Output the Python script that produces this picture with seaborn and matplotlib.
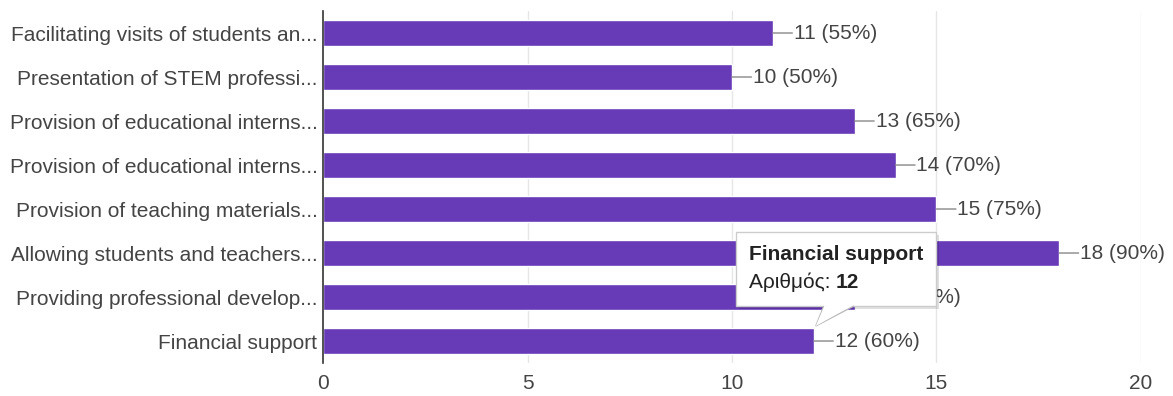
import matplotlib
matplotlib.use("Agg")
import matplotlib.pyplot as plt
import seaborn as sns
import pandas as pd
from matplotlib.patches import FancyBboxPatch, Polygon

categories = [
    "Facilitating visits of students an...",
    "Presentation of STEM professi...",
    "Provision of educational interns...",
    "Provision of educational interns...",
    "Provision of teaching materials...",
    "Allowing students and teachers...",
    "Providing professional develop...",
    "Financial support",
]
counts = [11, 10, 13, 14, 15, 18, 13, 12]
total = 20
x_ticks = [0, 5, 10, 15, 20]

tooltip_title = "Financial support"
tooltip_label = "Αριθμός: "

sns.set_theme(style="white")
plt.rcParams["font.family"] = ["Liberation Sans", "DejaVu Sans"]

BAR = "#673ab7"
TEXT = "#444444"
FS = 15

df = pd.DataFrame({"label": [f"{i}" for i in range(len(categories))],
                   "count": counts})

fig = plt.figure(figsize=(11.73, 3.96), dpi=100)
ax = fig.add_axes([0.2754, 0.0833, 0.6973, 0.8889])

sns.barplot(data=df, y="label", x="count", orient="h", color=BAR,
            saturation=1, width=0.6, ax=ax, zorder=3)

ax.set_xlim(0, 20)
ax.set_ylim(len(categories) - 0.5, -0.5)
ax.set_xticks(x_ticks)
ax.set_xticklabels([str(t) for t in x_ticks], fontsize=FS, color=TEXT)
ax.set_yticks(range(len(categories)))
ax.set_yticklabels(categories, fontsize=FS, color=TEXT)
ax.tick_params(axis="both", length=0)
ax.tick_params(axis="y", pad=4)
ax.tick_params(axis="x", pad=8)
ax.set_xlabel("")
ax.set_ylabel("")

for t in x_ticks[1:]:
    ax.axvline(t, color="#e6e6e6", lw=1, zorder=1)
for s in ["top", "right", "bottom"]:
    ax.spines[s].set_visible(False)
ax.spines["left"].set_color("#333333")
ax.spines["left"].set_linewidth(1.2)
ax.spines["left"].set_zorder(4)

# value labels with a short leader line
for i, v in enumerate(counts):
    ax.annotate("", xy=(v, i), xytext=(14, 0), textcoords="offset points",
                xycoords="data",
                arrowprops=dict(arrowstyle="-", color="#888888", lw=1,
                                shrinkA=0, shrinkB=0))
    ax.annotate(f"{v} ({round(v / total * 100)}%)", xy=(v, i),
                xytext=(15, 0), textcoords="offset points",
                va="center", ha="left", fontsize=FS, color=TEXT, zorder=5)

# hover tooltip on the last bar
fin = len(categories) - 1
val = counts[fin]
inv = ax.transData.inverted()
x0, y0 = ax.transData.transform((val, fin))
# box in pixel coordinates relative to the bar end
bx0, bx1 = x0 - 78, x0 + 122
by_top, by_bot = y0 + 109, y0 + 35
(dx0, dy0) = inv.transform((bx0, by_bot))
(dx1, dy1) = inv.transform((bx1, by_top))
(sx, sy) = inv.transform((bx0 + 3, by_top - 3))

shadow = FancyBboxPatch((sx, sy), dx1 - dx0, dy0 - dy1,
                        boxstyle="square,pad=0", fc="#000000", alpha=0.12,
                        ec="none", zorder=9, transform=ax.transData)
ax.add_patch(shadow)
box = FancyBboxPatch((dx0, dy1), dx1 - dx0, dy0 - dy1,
                     boxstyle="square,pad=0", fc="white", ec="#cccccc",
                     lw=1, zorder=10, transform=ax.transData)
ax.add_patch(box)

tip = inv.transform((x0 + 2, y0 + 15))
t1 = inv.transform((x0 + 10, by_bot))
t2 = inv.transform((x0 + 40, by_bot))
tail = Polygon([t1, tip, t2], closed=False, fc="white", ec="#bbbbbb",
               lw=1, zorder=11, transform=ax.transData)
ax.add_patch(tail)
cover = Polygon([inv.transform((x0 + 11, by_bot + 1)), tip,
                 inv.transform((x0 + 39, by_bot + 1))], closed=True,
                fc="white", ec="none", zorder=12, transform=ax.transData)
ax.add_patch(cover)

tx = inv.transform((bx0 + 13, 0))[0]
ax.text(tx, inv.transform((0, by_top - 22))[1], tooltip_title,
        fontsize=FS, fontweight="bold", color="#222222", va="center",
        ha="left", zorder=13)
lbl = ax.text(tx, inv.transform((0, by_top - 50))[1], tooltip_label,
              fontsize=FS, color="#222222", va="center", ha="left", zorder=13)
fig.canvas.draw()
bb = lbl.get_window_extent()
ax.text(inv.transform((bb.x1, 0))[0], inv.transform((0, by_top - 50))[1],
        str(val), fontsize=FS, fontweight="bold", color="#222222",
        va="center", ha="left", zorder=13)

fig.savefig("out.png", dpi=100, facecolor="white")
